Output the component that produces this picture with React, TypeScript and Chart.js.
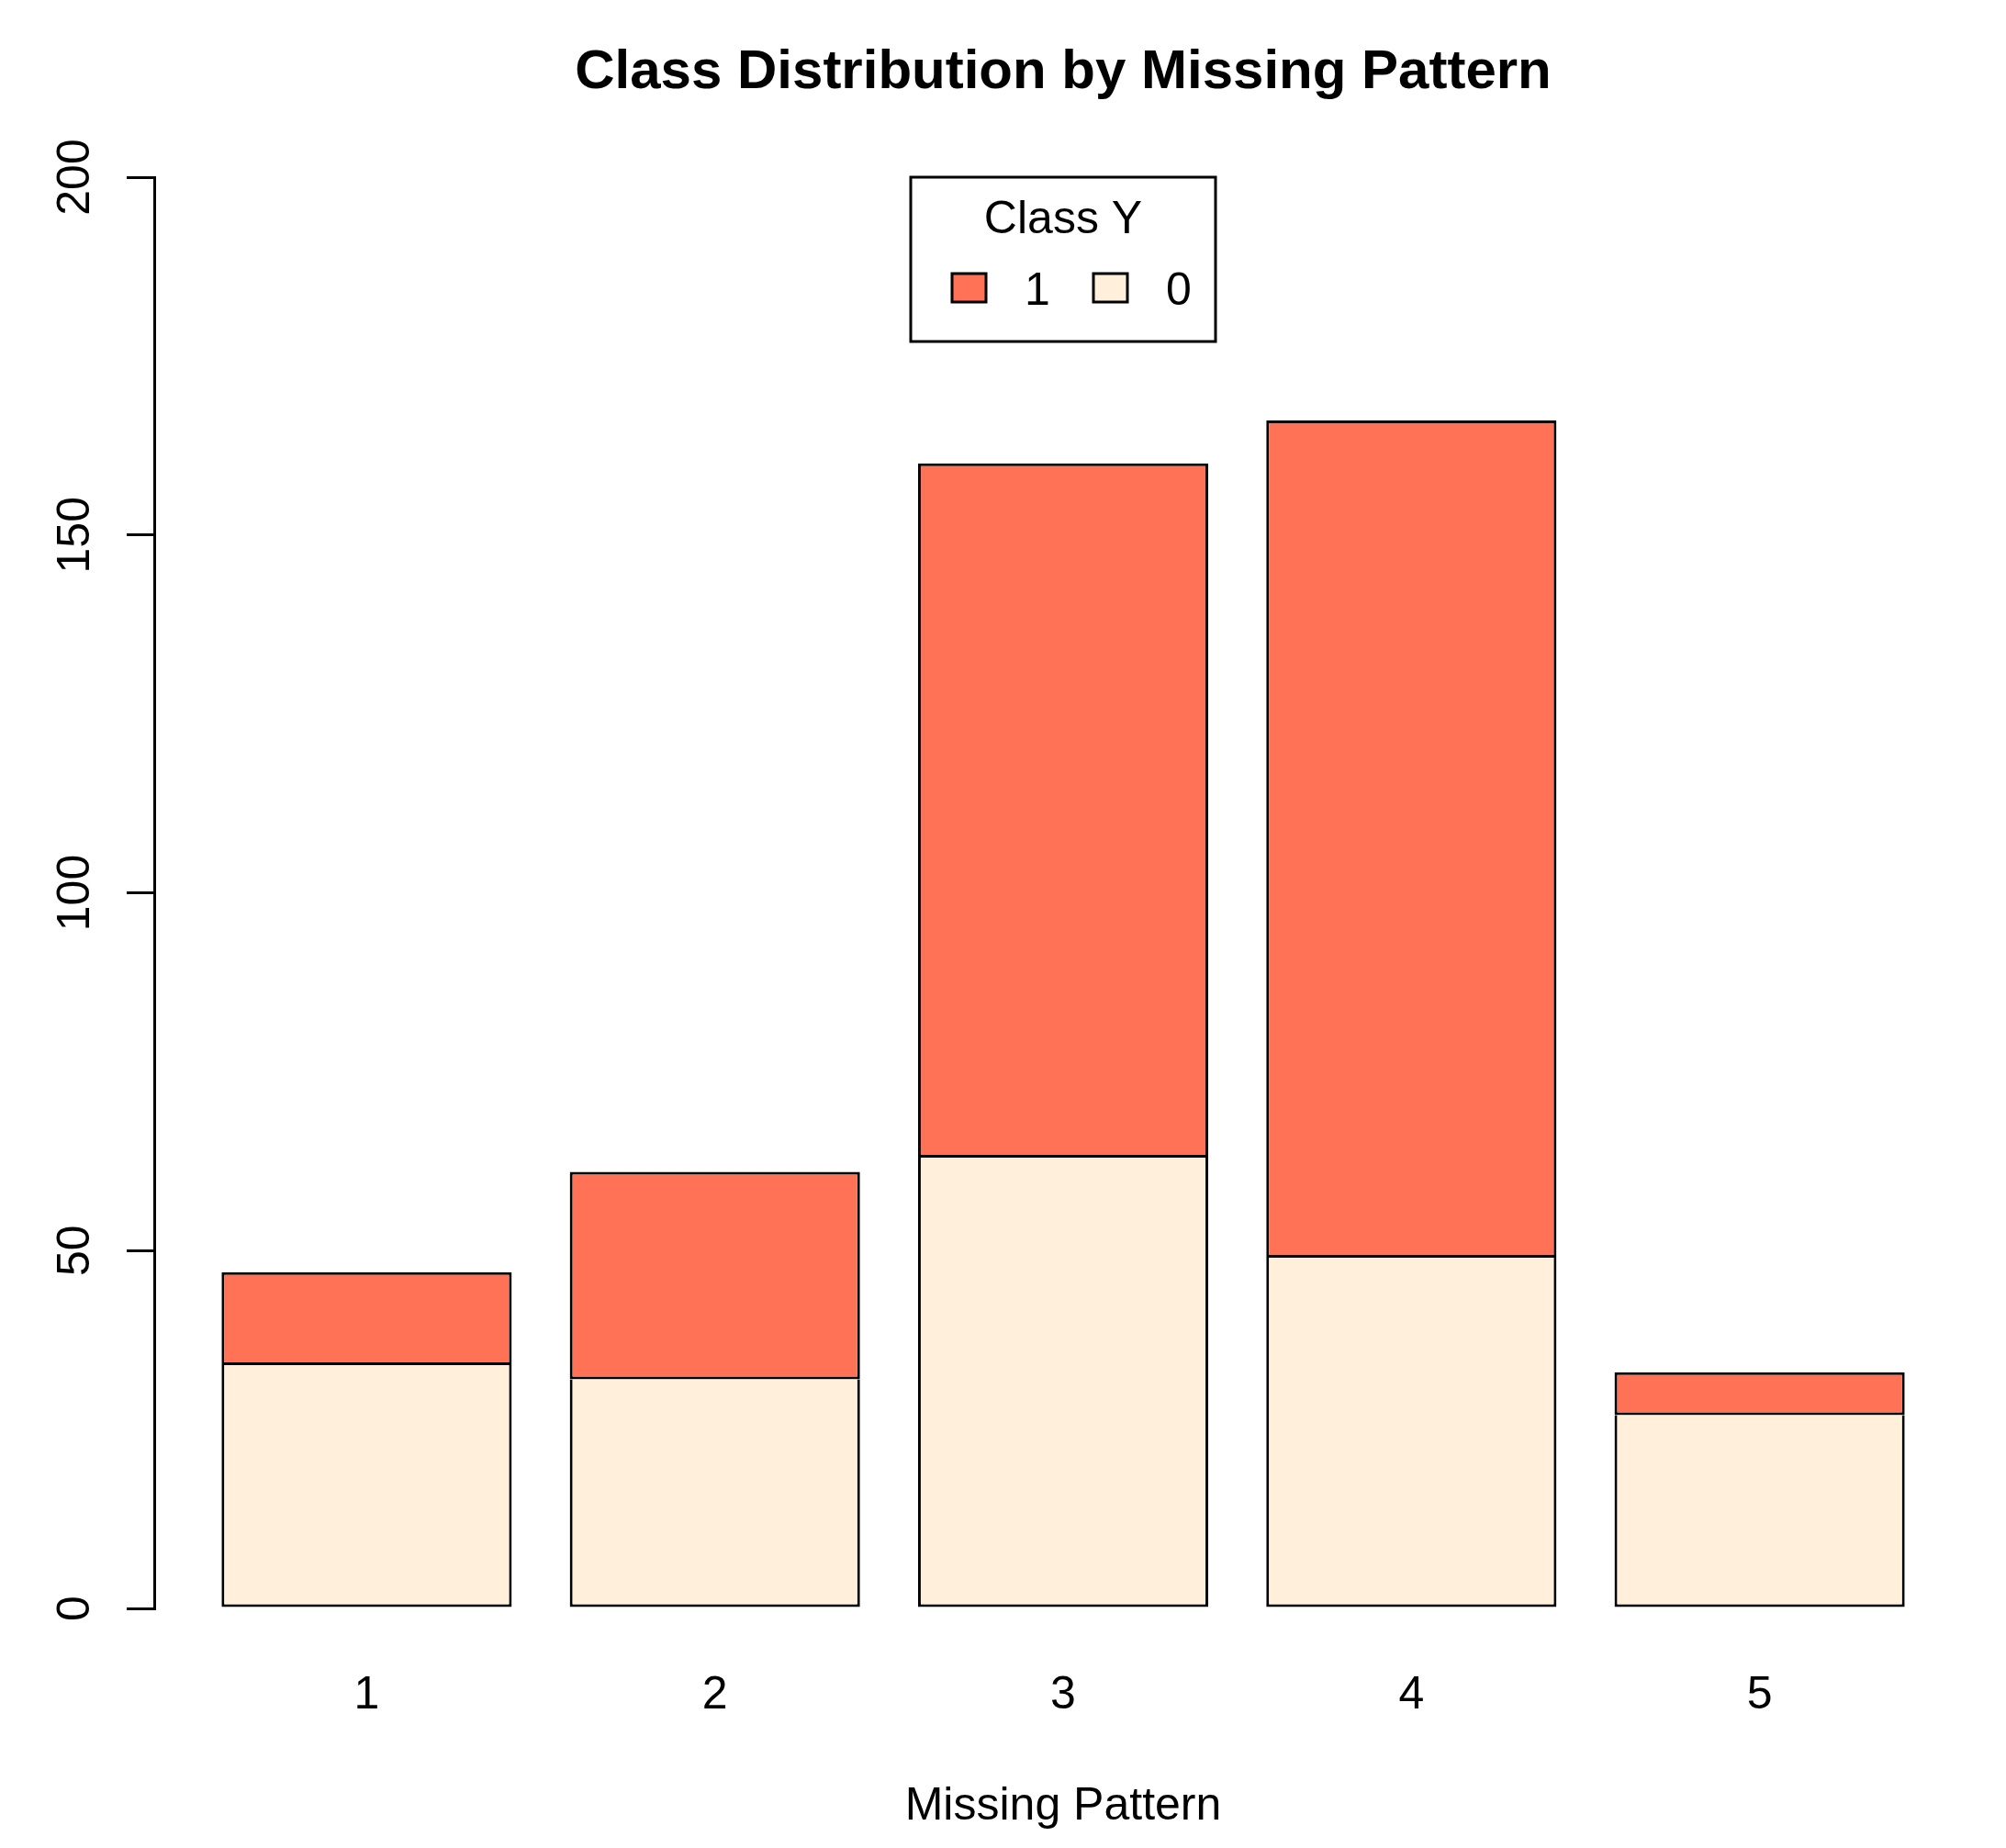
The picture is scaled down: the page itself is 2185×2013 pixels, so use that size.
import React, { useEffect, useRef } from "react";
import { Chart, registerables } from "chart.js";

Chart.register(...registerables);

// ---- data ----
const categories = ["1", "2", "3", "4", "5"];
const class0Values = [34, 32, 63, 49, 27];
const class1Values = [13, 29, 97, 117, 6];
const yTickValues = [0, 50, 100, 150, 200];
const chartTitle = "Class Distribution by Missing Pattern";
const xAxisTitle = "Missing Pattern";
const legendTitle = "Class Y";

// ---- styling ----
const COLOR_1 = "#FF7256";
const COLOR_0 = "#FFEFDB";
const FONT = "'Liberation Sans', Arial, Helvetica, sans-serif";
const LW = 3;

// R barplot geometry: width 1, space 0.2
const barPositions = categories.map((_, i) => 0.7 + 1.2 * i);
const xMin = 0.2 - 0.04 * 5.8;
const xMax = 6.0 + 0.04 * 5.8;

const decorPlugin = {
  id: "rDecor",
  afterDraw(chart: any) {
    const ctx = chart.ctx as CanvasRenderingContext2D;
    const yScale = chart.scales.y;
    const area = chart.chartArea;
    ctx.save();
    ctx.fillStyle = "#000";
    ctx.font = `50px ${FONT}`;
    ctx.textAlign = "center";
    ctx.textBaseline = "alphabetic";
    // y tick labels, rotated (R las = 0)
    yScale.ticks.forEach((t: any) => {
      const py = yScale.getPixelForValue(t.value);
      ctx.save();
      ctx.translate(area.left - 71, py);
      ctx.rotate(-Math.PI / 2);
      ctx.fillText(String(t.value), 0, 0);
      ctx.restore();
    });

    // legend box (top, horizontal)
    const cx = (area.left + area.right) / 2;
    const bw = 332;
    const bh = 179;
    const bx = cx - bw / 2;
    const by = area.top;
    ctx.fillStyle = "#fff";
    ctx.fillRect(bx, by, bw, bh);
    ctx.lineWidth = LW;
    ctx.strokeStyle = "#000";
    ctx.strokeRect(bx, by, bw, bh);
    ctx.fillStyle = "#000";
    ctx.textAlign = "center";
    ctx.fillText(legendTitle, cx, by + 61);

    const items = [...chart.data.datasets].reverse();
    items.forEach((ds: any, i: number) => {
      const sx = bx + 45 + i * 154;
      const sy = by + 105;
      ctx.fillStyle = ds.backgroundColor;
      ctx.fillRect(sx, sy, 37, 31);
      ctx.lineWidth = LW;
      ctx.strokeStyle = "#000";
      ctx.strokeRect(sx, sy, 37, 31);
      ctx.fillStyle = "#000";
      ctx.textAlign = "left";
      ctx.fillText(ds.label, sx + 79, by + 139);
    });
    ctx.restore();
  },
};

export default function App() {
  const canvasRef = useRef<HTMLCanvasElement | null>(null);

  useEffect(() => {
    document.body.style.margin = "0";
    document.body.style.background = "#fff";
    const canvas = canvasRef.current;
    if (!canvas) return;

    const chart = new Chart(canvas, {
      type: "bar",
      data: {
        datasets: [
          {
            label: "0",
            data: class0Values.map((v, i) => ({ x: barPositions[i], y: v })),
            backgroundColor: COLOR_0,
            borderColor: "#000",
            borderWidth: { top: 0, left: LW, right: LW, bottom: LW },
            borderSkipped: false,
            categoryPercentage: 1,
            barPercentage: 1 / 1.2,
          },
          {
            label: "1",
            data: class1Values.map((v, i) => ({ x: barPositions[i], y: v })),
            backgroundColor: COLOR_1,
            borderColor: "#000",
            borderWidth: LW,
            borderSkipped: false,
            categoryPercentage: 1,
            barPercentage: 1 / 1.2,
          },
        ],
      } as any,
      options: {
        responsive: false,
        maintainAspectRatio: false,
        devicePixelRatio: 1,
        animation: false,
        layout: {
          padding: { left: 0, right: 37, top: 0, bottom: 0 },
          autoPadding: false,
        },
        plugins: {
          legend: { display: false },
          tooltip: { enabled: false },
          title: {
            display: true,
            text: chartTitle,
            color: "#000",
            fullSize: false,
            font: { family: FONT, size: 60, weight: "bold", lineHeight: 1.2 },
            padding: { top: 43.5, bottom: 77.5 },
          },
        },
        scales: {
          x: {
            type: "linear",
            stacked: true,
            offset: false,
            min: xMin,
            max: xMax,
            grid: { display: false, drawTicks: false, offset: false },
            border: { display: false },
            afterBuildTicks: (scale: any) => {
              scale.ticks = barPositions.map((v) => ({ value: v }));
            },
            afterFit: (scale: any) => {
              scale.height = 261;
            },
            ticks: {
              autoSkip: false,
              maxRotation: 0,
              minRotation: 0,
              padding: 65,
              color: "#000",
              font: { family: FONT, size: 50, lineHeight: 1.2 },
              callback: (_v: any, index: number) => categories[index],
            },
            title: {
              display: true,
              text: xAxisTitle,
              color: "#000",
              font: { family: FONT, size: 50, lineHeight: 1.2 },
              padding: { top: 0, bottom: 15 },
            },
          },
          y: {
            type: "linear",
            stacked: true,
            min: 0,
            max: 200,
            afterBuildTicks: (scale: any) => {
              scale.ticks = yTickValues.map((v) => ({ value: v }));
            },
            afterFit: (scale: any) => {
              scale.width = 168;
            },
            ticks: { display: false },
            grid: {
              display: true,
              drawOnChartArea: false,
              drawTicks: true,
              tickLength: 30,
              color: "#000",
              lineWidth: LW,
            },
            border: { display: true, color: "#000", width: LW },
          },
        },
      } as any,
      plugins: [decorPlugin],
    });

    return () => chart.destroy();
  }, []);

  return (
    <canvas
      ref={canvasRef}
      width={2185}
      height={2013}
      style={{ display: "block", width: "2185px", height: "2013px" }}
    />
  );
}
